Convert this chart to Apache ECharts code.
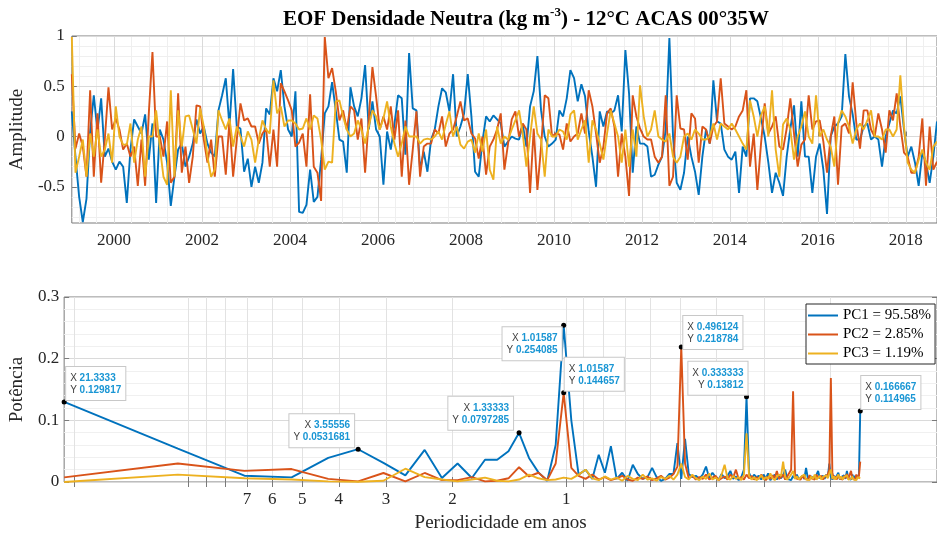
<!DOCTYPE html>
<html><head><meta charset="utf-8">
<script src="https://cdn.jsdelivr.net/npm/echarts@6/dist/echarts.min.js"></script>
<style>html,body{margin:0;padding:0;background:#fff}#c{width:937px;height:536px}</style>
</head><body><div id="c"></div>
<script>
// ---------- DATA ----------
const startYear = 1999;            // monthly samples, first = Jan 1999
const pc1Series = [
0.25,-0.2,-0.6,-0.85,-0.62,0.05,0.41,0.05,0.38,-0.2,
-0.12,-0.25,-0.33,-0.25,-0.3,-0.66,-0.13,0.17,0.1,0.03,
0.22,-0.23,0.13,-0.66,0.07,-0.03,-0.26,-0.69,-0.4,-0.13,
-0.07,-0.3,-0.2,-0.07,0.17,0.03,0.1,-0.07,-0.16,-0.2,
0.26,0.41,0.58,0.1,0.67,0.1,0.08,-0.35,-0.22,-0.5,
-0.3,-0.46,-0.26,0.28,0.22,0.58,0.45,0.66,0.3,0.07,
0.0,0.45,-0.75,-0.76,-0.68,-0.33,-0.65,-0.6,-0.23,0.23,
0.3,0.54,0.26,-0.03,-0.05,-0.36,0.49,0.3,0.2,0.38,
0.71,0.07,0.35,0.07,0.0,-0.48,0.05,-0.13,0.12,0.41,
0.38,-0.18,0.83,0.28,0.26,-0.33,-0.15,-0.35,-0.03,0.07,
0.3,0.48,0.44,0.25,0.62,0.0,0.1,0.23,0.62,0.2,
-0.35,-0.4,-0.05,0.2,0.15,0.21,0.17,0.13,-0.1,-0.05,
0.0,-0.02,-0.03,0.12,-0.1,0.3,0.45,0.8,0.26,0.0,
-0.1,-0.07,-0.03,0.26,0.2,0.38,0.66,0.58,0.35,0.52,
0.4,0.05,-0.2,-0.5,0.25,0.1,0.25,0.23,0.26,0.41,
0.05,0.86,0.43,-0.36,0.1,-0.07,-0.07,-0.1,-0.4,-0.38,
-0.28,-0.2,0.07,0.98,0.0,-0.46,-0.53,-0.36,0.0,-0.2,
-0.35,-0.58,-0.2,0.07,-0.07,0.56,0.15,0.13,-0.13,-0.2,
-0.23,-0.15,-0.56,-0.1,-0.2,0.38,0.38,0.35,0.18,0.0,
-0.26,-0.56,-0.36,-0.46,-0.59,-0.2,0.08,0.31,-0.2,0.35,
-0.2,-0.2,-0.56,-0.2,-0.07,-0.33,-0.77,0.0,0.1,0.13,
0.2,0.82,0.4,0.22,-0.03,-0.03,0.1,0.13,-0.03,0.0,
-0.03,-0.3,0.0,0.13,0.26,0.23,0.4,0.07,-0.2,-0.1,
-0.26,-0.49,-0.16,-0.26,-0.46,-0.2,0.15];
const pc2Series = [
0.62,-0.12,0.03,-0.1,-0.4,0.46,-0.4,0.23,-0.46,-0.03,
0.49,0.07,0.18,0.07,-0.13,-0.07,-0.2,-0.1,-0.49,-0.03,
-0.49,0.23,0.84,0.0,0.0,-0.2,0.15,-0.46,-0.4,0.43,
-0.36,-0.1,-0.46,-0.2,0.31,0.3,-0.03,-0.26,-0.03,-0.4,
0.0,0.0,-0.38,0.16,-0.4,-0.03,0.33,0.16,0.18,0.1,
0.1,-0.07,0.03,0.08,-0.3,0.07,-0.3,0.53,0.45,0.36,
0.26,-0.1,-0.06,0.03,-0.3,0.42,-0.3,-0.36,-0.64,0.99,
0.58,0.68,0.45,0.16,0.26,0.07,0.3,0.26,-0.03,0.18,
-0.36,0.18,0.69,0.4,0.07,0.2,0.07,0.3,-0.03,0.26,
-0.4,0.16,-0.48,-0.13,0.25,-0.4,-0.1,-0.07,-0.07,0.07,
0.03,0.2,-0.1,0.03,0.07,0.2,0.35,0.16,0.18,0.03,
-0.02,-0.22,0.0,-0.38,-0.1,-0.03,0.07,0.23,-0.33,-0.07,
0.17,0.25,0.0,0.13,0.07,-0.56,0.08,-0.53,-0.1,0.41,
0.38,0.0,0.03,0.02,-0.13,0.13,-0.05,0.0,0.03,0.23,
0.03,0.46,0.3,0.03,-0.26,-0.1,0.23,0.28,0.1,-0.4,
0.03,-0.2,-0.59,0.41,0.2,0.08,0.0,-0.03,-0.03,-0.2,
-0.26,-0.2,0.41,-0.49,-0.4,0.41,0.08,0.07,-0.23,0.23,
0.18,-0.26,0.1,0.07,-0.07,0.1,0.15,0.58,0.13,0.1,
0.07,0.1,0.2,0.26,0.46,-0.3,0.03,-0.53,-0.07,0.33,
0.03,0.1,0.2,-0.1,-0.13,0.08,0.38,0.03,-0.3,-0.08,
-0.03,0.41,0.07,0.15,0.16,-0.05,-0.36,0.0,0.2,-0.48,
0.1,0.13,0.03,0.54,0.13,-0.12,0.26,0.26,0.07,0.0,
0.23,0.07,-0.16,0.26,0.16,0.43,0.1,-0.16,-0.2,-0.36,
-0.36,-0.2,0.18,-0.49,0.1,-0.33,-0.25];
const pc3Series = [
0.99,-0.36,-0.2,-0.03,-0.4,0.03,-0.2,0.07,-0.2,-0.13,
0.03,-0.26,0.3,0.0,-0.08,-0.08,0.13,-0.26,-0.03,0.1,
-0.4,0.0,0.0,0.26,-0.1,-0.4,-0.48,0.46,-0.4,0.26,
-0.1,0.2,0.21,0.07,-0.07,0.28,0.1,-0.2,-0.4,-0.33,
0.26,0.16,0.07,0.18,-0.1,0.1,0.0,-0.1,0.05,-0.03,
-0.26,-0.03,0.16,0.07,0.03,0.56,0.23,0.3,0.1,0.16,
0.16,0.13,0.07,0.08,0.18,0.07,0.21,0.18,-0.03,-0.33,
-0.25,-0.26,0.35,0.36,0.2,0.07,0.0,0.03,0.16,0.07,
-0.07,0.1,0.26,0.2,0.07,0.18,0.35,0.1,-0.07,-0.2,
-0.07,0.1,0.0,0.0,0.0,-0.07,-0.03,-0.02,-0.03,0.0,
0.05,-0.03,0.12,0.25,0.0,0.1,-0.08,-0.12,-0.05,-0.03,
-0.16,0.03,-0.15,0.07,-0.33,-0.43,0.1,-0.07,0.0,-0.03,
0.07,0.16,0.26,0.03,-0.3,0.0,0.3,0.03,-0.03,-0.4,
0.07,0.0,0.0,0.07,0.05,-0.03,0.22,0.26,-0.03,0.07,
0.16,-0.26,0.16,0.07,-0.07,-0.23,0.03,0.26,0.13,0.0,
-0.26,0.07,-0.3,0.07,-0.2,0.51,0.2,0.0,0.07,0.26,
0.0,-0.03,-0.05,0.03,-0.2,-0.26,-0.2,0.0,0.03,-0.03,
0.07,0.03,-0.03,-0.03,0.0,0.13,-0.03,0.13,0.1,0.07,
0.13,0.07,0.0,-0.07,-0.13,0.36,0.2,0.0,0.21,0.3,
0.0,0.46,-0.13,-0.4,0.12,0.18,0.07,-0.23,0.0,0.1,
0.25,0.0,-0.07,0.41,0.0,0.07,-0.03,-0.1,-0.3,0.13,
0.26,0.2,0.1,-0.07,0.07,0.13,0.07,0.16,0.26,0.0,
0.0,-0.03,0.07,0.07,0.0,0.07,0.61,0.1,-0.26,-0.33,
-0.36,-0.23,-0.13,-0.26,-0.33,-0.1,-0.05];

const nfft = 256, dtYears = 1/12;   // periodogram frequency grid k = 1..128
const pc1Power = [
0.129817,0.054,0.0102,0.0075,0.039,0.0531681,0.031,0.0107,0.052,0.0065,
0.030,0.0065,0.036,0.036,0.050,0.0797285,0.039,0.0156,0.002,0.06,
0.254085,0.10,0.012,0.02,0.005,0.044,0.015,0.058,0.005,0.015,
0.002,0.028,0.013,0.005,0.008,0.023,0.008,0.002,0.005,0.013,
0.013,0.063,0.005,0.07,0.013,0.008,0.01,0.005,0.012,0.025,
0.006,0.015,0.008,0.004,0.013,0.006,0.01,0.018,0.005,0.009,
0.003,0.008,0.02,0.13812,0.015,0.005,0.012,0.008,0.01,0.004,
0.012,0.006,0.014,0.003,0.008,0.012,0.004,0.009,0.006,0.011,
0.02,0.005,0.008,0.003,0.01,0.006,0.012,0.004,0.007,0.01,
0.005,0.023,0.006,0.004,0.009,0.012,0.005,0.008,0.018,0.006,
0.004,0.01,0.005,0.012,0.007,0.03,0.008,0.004,0.01,0.006,
0.009,0.015,0.004,0.008,0.006,0.011,0.005,0.018,0.006,0.009,
0.004,0.012,0.006,0.01,0.005,0.008,0.012,0.114965];
const pc2Power = [
0.0075,0.030,0.018,0.021,0.005,0.001,0.0146,0.001,0.0146,0.003,
0.003,0.008,0.001,0.002,0.006,0.024,0.009,0.015,0.003,0.03,
0.144657,0.023,0.01,0.005,0.012,0.004,0.008,0.003,0.006,0.01,
0.004,0.002,0.007,0.005,0.009,0.003,0.006,0.01,0.004,0.007,
0.013,0.025,0.218784,0.03,0.006,0.01,0.004,0.008,0.005,0.012,
0.004,0.007,0.01,0.003,0.006,0.009,0.004,0.012,0.007,0.02,
0.005,0.008,0.004,0.012,0.006,0.01,0.004,0.008,0.005,0.012,
0.007,0.003,0.009,0.005,0.011,0.006,0.018,0.005,0.008,0.012,
0.004,0.009,0.006,0.02,0.147,0.012,0.005,0.008,0.004,0.01,
0.006,0.008,0.004,0.011,0.006,0.009,0.004,0.012,0.007,0.005,
0.01,0.004,0.008,0.006,0.012,0.02,0.1686,0.015,0.005,0.009,
0.004,0.011,0.006,0.008,0.004,0.01,0.006,0.013,0.005,0.008,
0.018,0.006,0.009,0.004,0.012,0.006,0.01,0.033];
const pc3Power = [
0.0,0.012,0.006,0.004,0.001,0.0005,0.002,0.0215,0.008,0.004,
0.001,0.004,0.007,0.002,0.001,0.004,0.012,0.006,0.003,0.004,
0.007,0.005,0.012,0.02,0.006,0.003,0.009,0.004,0.007,0.002,
0.01,0.005,0.003,0.012,0.004,0.006,0.002,0.008,0.005,0.01,
0.004,0.012,0.03,0.008,0.004,0.012,0.006,0.003,0.009,0.005,
0.014,0.004,0.007,0.003,0.012,0.028,0.006,0.004,0.01,0.005,
0.008,0.003,0.012,0.079,0.01,0.004,0.008,0.003,0.006,0.011,
0.004,0.008,0.005,0.014,0.006,0.003,0.009,0.012,0.01,0.033,
0.008,0.004,0.007,0.012,0.018,0.005,0.009,0.004,0.008,0.006,
0.012,0.004,0.007,0.003,0.009,0.005,0.012,0.004,0.007,0.01,
0.004,0.008,0.005,0.011,0.006,0.014,0.02,0.005,0.009,0.004,
0.007,0.012,0.005,0.009,0.004,0.008,0.006,0.011,0.004,0.007,
0.005,0.009,0.004,0.006,0.003,0.008,0.005,0.006];

const seriesNames = ['PC1 = 95.58%', 'PC2 = 2.85%', 'PC3 = 1.19%'];
const yearTicks = [2000,2002,2004,2006,2008,2010,2012,2014,2016,2018];
const ampTicks = [-0.5, 0, 0.5, 1];
const periodTicks = [7,6,5,4,3,2,1];
const periodGrid = [20,10,9,8,7,6,5,4,3,2,1,0.9,0.8,0.7,0.6,0.5,0.4,0.3,0.2];
// data tips: series index and harmonic k
const dataTips = [{s:0,k:1},{s:0,k:6},{s:0,k:16},{s:0,k:21},{s:1,k:21},{s:1,k:43},{s:0,k:64},{s:0,k:128}];

// ---------- LAYOUT / STYLE ----------
const tipLayout = [
  {align:'left',  off:[2,-35]},
  {align:'right', off:[-4,-35]},
  {align:'right', off:[-6,-36]},
  {align:'right', off:[-2,2]},
  {align:'left',  off:[1,-35]},
  {align:'left',  off:[2,-31]},
  {align:'right', off:[1,-35]},
  {align:'left',  off:[1,-35]}
];
const colors = ['#0072BD', '#D95319', '#EDB120'];
const serif = 'Liberation Serif';
const txt = '#262626';
const boxColor = '#7a7a7a';

const tsData = [pc1Series, pc2Series, pc3Series];
const powData = [pc1Power, pc2Power, pc3Power];
const timeOf = i => startYear + (i + 0.5) / 12;
const tMin = timeOf(0), tMax = timeOf(pc1Series.length - 1);
const periods = pc1Power.map((_, i) => nfft * dtYears / (i + 1));
const yearMinor = [];
for (let y = 1999.2; y < tMax; y += 0.4) yearMinor.push(+y.toFixed(1));
const ampMinor = [];
for (let a = -8; a <= 9; a++) if (a % 5) ampMinor.push(a / 10);
const fmt6 = v => String(Number(v.toPrecision(6)));

const chart = echarts.init(document.getElementById('c'), null, {width: 937, height: 536});

const tickStyle = {show: true, inside: true, length: 5, lineStyle: {color: boxColor, width: 1}};
const labelStyle = {color: txt, fontFamily: serif, fontSize: 17};

const series = [];
tsData.forEach((arr, si) => {
  series.push({
    type: 'line', name: seriesNames[si], xAxisIndex: 0, yAxisIndex: 0,
    data: arr.map((v, i) => [timeOf(i), v]),
    symbol: 'none', showSymbol: false, clip: true,
    lineStyle: {color: colors[si], width: 1.9}, itemStyle: {color: colors[si]},
    z: 3 + si
  });
});
powData.forEach((arr, si) => {
  const tips = [];
  dataTips.forEach((t, ti) => {
    if (t.s !== si) return;
    const P = periods[t.k - 1], Y = arr[t.k - 1];
    const L = tipLayout[ti];
    tips.push({
      coord: [P, Y],
      label: {
        show: true, position: 'inside', align: L.align, verticalAlign: 'top', offset: L.off,
        formatter: '{l|X} {v|' + fmt6(P) + '}\n{l|Y} {v|' + fmt6(Y) + '}',
        backgroundColor: '#fff', borderColor: '#c8c8c8', borderWidth: 1, padding: [5, 4, 4, 4],
        fontFamily: 'Liberation Sans', fontSize: 10, lineHeight: 12, color: '#404040',
        rich: {
          l: {color: '#404040', fontFamily: 'Liberation Sans', fontSize: 10, lineHeight: 12, align: L.align},
          v: {color: '#1a96d4', fontFamily: 'Liberation Sans', fontWeight: 'bold', fontSize: 10, lineHeight: 12, align: L.align}
        }
      }
    });
  });
  series.push({
    type: 'line', name: seriesNames[si], xAxisIndex: 3, yAxisIndex: 3,
    data: arr.map((v, i) => [periods[i], v]),
    symbol: 'none', showSymbol: false, clip: true,
    lineStyle: {color: colors[si], width: 1.9}, itemStyle: {color: colors[si]},
    z: 3 + si,
    markPoint: tips.length ? {
      symbol: 'circle', symbolSize: 5, itemStyle: {color: '#000'}, silent: true, animation: false,
      data: tips, z: 10
    } : undefined
  });
});

const option = {
  animation: false,
  backgroundColor: '#fff',
  graphic: [{
    type: 'text', x: 526, y: 18, z: 20,
    style: {
      text: '{a|EOF Densidade Neutra (kg m}{s|-3}{a|) - 12°C ACAS 00°35W}',
      align: 'center', verticalAlign: 'middle',
      rich: {
        a: {fontFamily: serif, fontWeight: 'bold', fontSize: 21, fill: '#000', lineHeight: 24, verticalAlign: 'bottom'},
        s: {fontFamily: serif, fontWeight: 'bold', fontSize: 13, fill: '#000', lineHeight: 24, verticalAlign: 'top'}
      }
    }
  }],
  legend: {
    data: seriesNames, orient: 'vertical', left: 806, top: 304,
    icon: 'rect', itemWidth: 30, itemHeight: 2,
    padding: [4, 4, 3, 2], itemGap: 4,
    backgroundColor: '#fff', borderColor: '#262626', borderWidth: 1, borderRadius: 0,
    textStyle: {fontFamily: serif, fontSize: 15, color: '#000', lineHeight: 15},
    selectedMode: false, z: 20
  },
  grid: [
    {left: 65, top: 36, right: 0, height: 187, show: true, borderColor: boxColor, borderWidth: 1, backgroundColor: 'transparent'},
    {left: 64, top: 297, right: 0, height: 185, show: true, borderColor: boxColor, borderWidth: 1, backgroundColor: 'transparent'}
  ],
  xAxis: [
    {gridIndex: 0, type: 'value', min: tMin, max: tMax, position: 'bottom',
     axisLine: {show: false}, axisTick: Object.assign({customValues: yearTicks}, tickStyle),
     axisLabel: Object.assign({customValues: yearTicks, margin: 9, formatter: v => String(v)}, labelStyle),
     splitLine: {show: true, lineStyle: {color: '#dadada', width: 1}}, z: 2},
    {gridIndex: 0, type: 'value', min: tMin, max: tMax, position: 'top',
     axisLine: {show: false}, axisTick: Object.assign({customValues: yearTicks}, tickStyle),
     axisLabel: {show: false}, splitLine: {show: false}},
    {gridIndex: 0, type: 'value', min: tMin, max: tMax, position: 'bottom',
     axisLine: {show: false}, axisTick: {show: false, customValues: yearMinor},
     axisLabel: {show: false}, splitLine: {show: true, lineStyle: {color: '#efefef', width: 1}}, z: 1},
    {gridIndex: 1, type: 'log', logBase: 10, min: 0.1044, max: periods[0], inverse: true, position: 'bottom',
     axisLine: {show: false}, axisTick: Object.assign({customValues: periodGrid}, tickStyle),
     axisLabel: Object.assign({customValues: periodTicks, margin: 9, formatter: v => String(v)}, labelStyle),
     splitLine: {show: true, lineStyle: {color: '#e2e2e2', width: 1}},
     name: 'Periodicidade em anos', nameLocation: 'middle', nameGap: 32,
     nameTextStyle: {fontFamily: serif, fontSize: 19, color: txt}, z: 2},
    {gridIndex: 1, type: 'log', logBase: 10, min: 0.1044, max: periods[0], inverse: true, position: 'top',
     axisLine: {show: false}, axisTick: Object.assign({customValues: periodGrid}, tickStyle),
     axisLabel: {show: false}, splitLine: {show: false}}
  ],
  yAxis: [
    {gridIndex: 0, type: 'value', min: -0.86, max: 1, position: 'left',
     axisLine: {show: false}, axisTick: Object.assign({customValues: ampTicks}, tickStyle),
     axisLabel: Object.assign({customValues: ampTicks, margin: 7, formatter: v => String(v)}, labelStyle),
     splitLine: {show: true, lineStyle: {color: '#dadada', width: 1}},
     name: 'Amplitude', nameLocation: 'middle', nameGap: 35,
     nameTextStyle: {fontFamily: serif, fontSize: 19, color: txt}, z: 2},
    {gridIndex: 0, type: 'value', min: -0.86, max: 1, position: 'right',
     axisLine: {show: false}, axisTick: Object.assign({customValues: ampTicks}, tickStyle),
     axisLabel: {show: false}, splitLine: {show: false}},
    {gridIndex: 0, type: 'value', min: -0.86, max: 1, position: 'left',
     axisLine: {show: false}, axisTick: {show: false, customValues: ampMinor},
     axisLabel: {show: false}, splitLine: {show: true, lineStyle: {color: '#efefef', width: 1}}, z: 1},
    {gridIndex: 1, type: 'value', min: 0, max: 0.3, interval: 0.1, position: 'left',
     axisLine: {show: false}, axisTick: tickStyle,
     axisLabel: Object.assign({margin: 5, formatter: v => String(+v.toFixed(2))}, labelStyle),
     splitLine: {show: true, lineStyle: {color: '#dadada', width: 1}},
     minorTick: {show: false, splitNumber: 5},
     minorSplitLine: {show: true, lineStyle: {color: '#f0f0f0', width: 1}},
     name: 'Potência', nameLocation: 'middle', nameGap: 32,
     nameTextStyle: {fontFamily: serif, fontSize: 19, color: txt}},
    {gridIndex: 1, type: 'value', min: 0, max: 0.3, interval: 0.1, position: 'right',
     axisLine: {show: false}, axisTick: tickStyle, axisLabel: {show: false}, splitLine: {show: false}}
  ],
  series: series
};
chart.setOption(option);
</script>
</body></html>
